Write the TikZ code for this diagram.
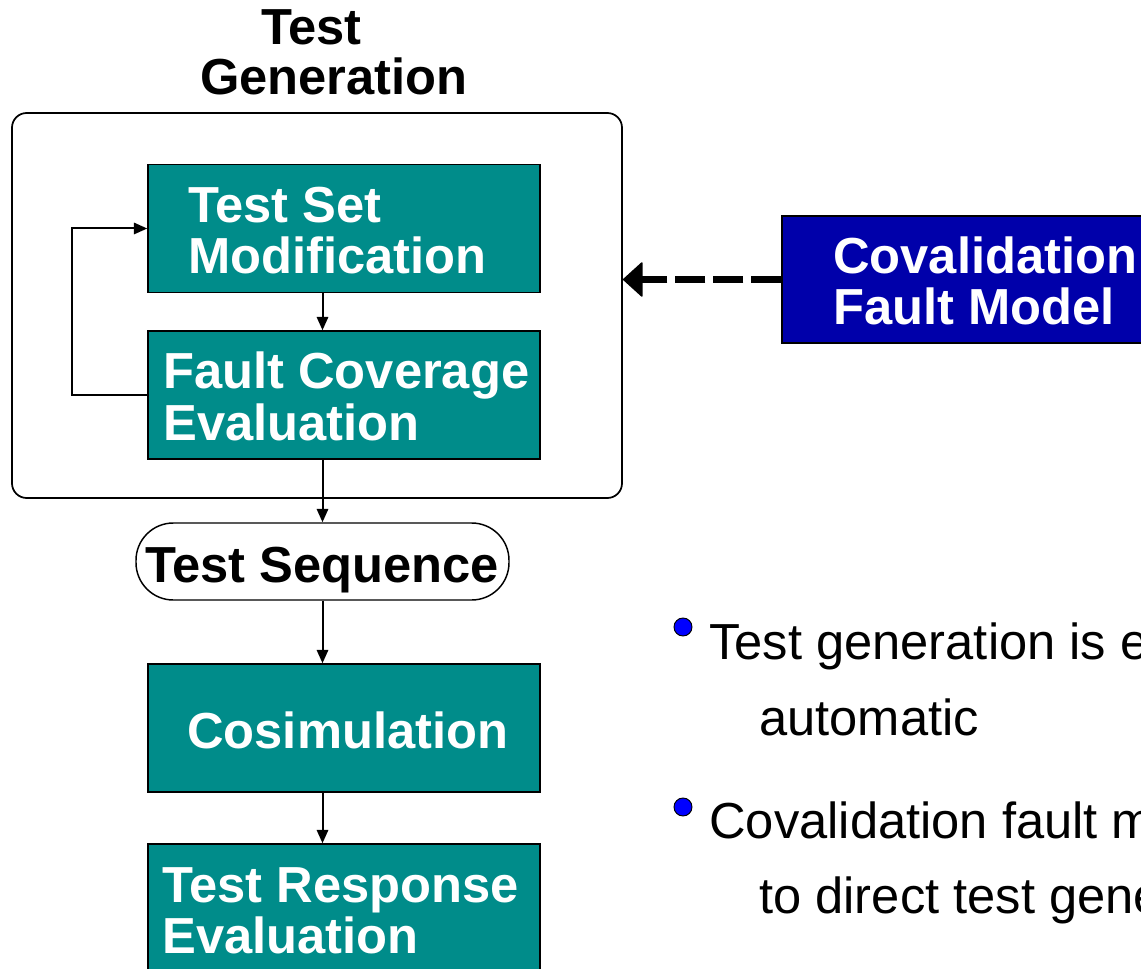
\documentclass[tikz,border=0pt]{standalone}
\usepackage{fontspec}
\setmainfont{Liberation Sans}
\usetikzlibrary{arrows.meta}
\definecolor{tealfill}{RGB}{0,140,138}
\definecolor{covblue}{RGB}{0,0,170}
\definecolor{dotblue}{RGB}{0,0,255}
\begin{document}
\begin{tikzpicture}[x=0.75pt,y=-0.75pt,
  stepbox/.style={draw=black, line width=1.1pt, fill=tealfill, inner sep=0pt,
    minimum width=294pt, minimum height=96pt},
  covbox/.style={draw=black, line width=1.1pt, fill=covblue, inner sep=0pt,
    minimum width=298.5pt, minimum height=95.25pt},
  frame/.style={draw=black, line width=1.3pt, rounded corners=11pt, inner sep=0pt,
    minimum width=457.5pt, minimum height=288.75pt},
  pill/.style={draw=black, line width=1.1pt, fill=white, rounded corners=28pt, inner sep=0pt,
    minimum width=279.75pt, minimum height=57.75pt},
  txt/.style={anchor=base west, inner sep=0pt, font=\fontsize{38}{45}\selectfont},
  boxtxt/.style={txt, font=\fontsize{38}{45}\selectfont\bfseries, text=white},
  headtxt/.style={txt, font=\fontsize{38}{45}\selectfont\bfseries, text=black},
  dot/.style={circle, draw=black, line width=0.7pt, fill=dotblue, inner sep=0pt, minimum size=13.5pt},
  arr/.style={line width=1.5pt, -{Triangle[length=10pt,width=8.5pt]}},
  bigarr/.style={line width=5.25pt, dash pattern=on 22.5pt off 6pt,
    -{Triangle[length=15pt,width=27pt,round,line width=1pt]}}]
\useasboundingbox (0,0) rectangle (1141,969);
\clip (0,0) rectangle (1141,969);

% heading above the generation stage
\node[headtxt] (h1) at (261,45) {Test};
\node[headtxt] (h2) at (200,95) {Generation};

% generation stage with its inner loop
\node[frame] (outer) at (317,305.5) {};
\node[stepbox] (tsm) at (344,228.5) {};
\node[boxtxt] (tsm1) at (188,223) {Test Set};
\node[boxtxt] (tsm2) at (188,274) {Modification};
\node[stepbox] (fce) at (344,395) {};
\node[boxtxt] (fce1) at (163,388) {Fault Coverage};
\node[boxtxt] (fce2) at (163,440) {Evaluation};

% sequence and downstream steps
\node[pill] (seq) at (322.5,561.5) {};
\node[headtxt] (seqt) at (145,582) {Test Sequence};
\node[stepbox] (cosim) at (344,728) {};
\node[boxtxt] (cosimt) at (187,748) {Cosimulation};
\node[stepbox] (tre) at (344,908) {};
\node[boxtxt] (tre1) at (162,902) {Test Response};
\node[boxtxt] (tre2) at (162,953) {Evaluation};

% fault model feeding the generator
\node[covbox] (cov) at (981,279.5) {};
\node[boxtxt] (cov1) at (833,274) {Covalidation};
\node[boxtxt] (cov2) at (833,325) {Fault Model};

% connectors
\draw[arr] (tsm.south -| seq.center) -- (fce.north -| seq.center);
\draw[arr] (fce.west) -- ++(-75,0) |- (tsm.west);
\draw[arr] (fce.south -| seq.center) -- (seq.north);
\draw[arr] (seq.south) -- (cosim.north -| seq.center);
\draw[arr] (cosim.south -| seq.center) -- (tre.north -| seq.center);
\draw[bigarr] (cov.west) -- (cov.west -| outer.east);

% bullet points
\node[dot] (b1) at (683,627) {};
\node[txt] (p1a) at (709,659) {Test generation is e};
\node[txt] (p1b) at (759,735) {automatic};
\node[dot] (b2) at (683,807) {};
\node[txt] (p2a) at (709,838) {Covalidation fault m};
\node[txt] (p2b) at (759,913) {to direct test gene};
\end{tikzpicture}
\end{document}
